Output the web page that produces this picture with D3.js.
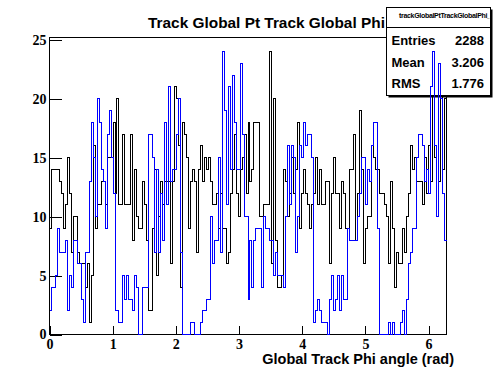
<!DOCTYPE html>
<html><head><meta charset="utf-8">
<script src="https://cdn.jsdelivr.net/npm/d3@7"></script>
<style>html,body{margin:0;padding:0;background:#fff;} svg{display:block}</style>
</head><body><svg id="c" width="496" height="372"></svg>
<script>
// ---------- data ----------
const xRange = [0, 2 * Math.PI];
const blackCounts = [
 9,14,14,14,14,13,12,9,11,15, 12,7,10,10,7,6,6,6,4,6,
 1,5,16,9,11,11,13,13,11,15, 15,15,18,12,20,11,11,17,11,11,
 11,17,8,14,10,9,9,13,11,8, 2,2,9,14,5,10,13,11,13,13,
 13,6,13,21,20,16,4,18,17,15, 9,13,14,13,7,14,16,13,15,14,
 15,13,11,11,12,9,12,9,9,6, 7,12,14,17,12,10,14,15,17,12,
 18,13,14,18,18,18,10,10,11,11, 11,24,6,20,8,4,4,5,14,13,
 10,12,15,12,14,18,9,12,14,12, 11,9,11,12,15,11,14,11,11,13,
 13,6,12,15,12,12,9,13,12,9, 9,14,14,17,8,12,19,14,6,9,
 10,10,16,15,14,14,12,12,12,11, 10,6,13,9,4,7,6,6,9,7,
 10,12,16,14,15,13,13,13,11,15, 12,16,13,22,15,10,13,23,14,20
];
const blueCounts = [
 2,4,4,5,9,7,7,7,8,2, 5,4,8,8,6,6,3,1,7,7,
 13,18,15,10,20,18,14,13,9,17, 19,15,12,2,2,1,1,5,3,5,
 3,3,2,5,4,0,0,4,4,4, 17,17,15,7,14,7,12,8,18,11,
 21,13,14,14,17,20,7,0,0,0, 0,1,1,0,0,0,1,2,2,3,
 3,10,6,8,8,15,7,24,19,11, 21,14,22,18,14,14,23,17,10,10,
 3,8,4,8,9,9,9,4,10,9, 9,8,8,5,7,5,5,5,4,10,
 16,11,16,15,7,10,16,15,18,16, 17,17,15,1,2,3,2,1,1,1,
 0,3,5,2,3,5,2,5,3,3, 9,8,8,8,8,10,12,15,15,11,
 14,13,16,18,18,9,0,0,0,0, 0,1,0,1,0,0,0,1,2,0,
 3,6,7,9,9,15,17,17,16,13, 14,12,21,24,16,10,23,20,12,8
];
const xTicks = [0, 1, 2, 3, 4, 5, 6];
const yTicks = [0, 5, 10, 15, 20, 25];
const statsLabels = ["Entries", "Mean", "RMS"];
const statsValues = ["2288", "3.206", "1.776"];
const titleText = "Track Global Pt Track Global Phi";
const statsName = "trackGlobalPtTrackGlobalPhi_";
const xTitle = "Global Track Phi angle (rad)";

// ---------- layout ----------
const svg = d3.select("#c");
const L = 49.5, R = 446.5, T = 37.5, B = 334.5;
const x = d3.scaleLinear().domain(xRange).range([L, R]);
const y = d3.scaleLinear().domain([0, 25.2]).range([B, T]);
const sansB = "'Liberation Sans', Arial, Helvetica, sans-serif";
const serifB = "'Liberation Serif', 'Times New Roman', serif";

// title (partly hidden by stats box)
svg.append("text").attr("x", 148).attr("y", 28)
  .attr("font-family", sansB).attr("font-weight", "bold").attr("font-size", 15.4)
  .text(titleText);

// frame
svg.append("rect").attr("x", L).attr("y", T).attr("width", R - L).attr("height", B - T)
  .attr("fill", "none").attr("stroke", "#000").attr("stroke-width", 1);

// axes
const gx = svg.append("g").attr("transform", `translate(0,${B})`);
gx.call(d3.axisBottom(x).tickValues(d3.range(0, 6.29, 0.2)).tickSize(-4.5).tickFormat(""))
  .call(g => g.select(".domain").remove());
gx.call(d3.axisBottom(x).tickValues(xTicks).tickSize(-9).tickPadding(5).tickFormat(d3.format("d")))
  .call(g => g.selectAll(".domain").remove());
gx.selectAll("text").attr("font-family", serifB).attr("font-weight", "bold")
  .attr("font-size", 14).attr("fill", "#000");
gx.selectAll("line").attr("stroke", "#000").attr("shape-rendering", "crispEdges");

const gy = svg.append("g").attr("transform", `translate(${L},0)`);
gy.call(d3.axisLeft(y).tickValues(d3.range(0, 25.1, 1)).tickSize(-6).tickFormat(""))
  .call(g => g.select(".domain").remove());
gy.call(d3.axisLeft(y).tickValues(yTicks).tickSize(-12).tickPadding(3).tickFormat(d3.format("d")))
  .call(g => g.selectAll(".domain").remove());
gy.selectAll("text").attr("font-family", serifB).attr("font-weight", "bold")
  .attr("font-size", 14).attr("fill", "#000");
gy.selectAll("line").attr("stroke", "#000").attr("shape-rendering", "crispEdges");

// x axis title
svg.append("text").attr("x", 454).attr("y", 364).attr("text-anchor", "end")
  .attr("font-family", sansB).attr("font-weight", "bold").attr("font-size", 14.5)
  .text(xTitle);

// histogram outline helper
const nB = blackCounts.length;
const bw = (xRange[1] - xRange[0]) / nB;
function histPath(counts) {
  const pts = counts.map((v, i) => [xRange[0] + i * bw, v]);
  pts.push([xRange[1], counts[counts.length - 1]]);
  return d3.line()
    .x(d => Math.round(x(d[0]) - 0.5) + 0.5)
    .y(d => Math.round(y(d[1]) - 0.5) + 0.5)
    .curve(d3.curveStepAfter)(pts);
}

svg.append("path").attr("d", histPath(blackCounts))
  .attr("fill", "none").attr("stroke", "#000").attr("stroke-width", 1)
  .attr("shape-rendering", "crispEdges");

// stats box
const sb = { x: 386.5, y: 7.5, w: 104, h: 88 };
svg.append("rect").attr("x", sb.x + 2).attr("y", sb.y + 2).attr("width", sb.w).attr("height", sb.h)
  .attr("fill", "#000");
svg.append("rect").attr("x", sb.x).attr("y", sb.y).attr("width", sb.w).attr("height", sb.h)
  .attr("fill", "#fff").attr("stroke", "#000").attr("stroke-width", 1);
svg.append("clipPath").attr("id", "sbclip").append("rect")
  .attr("x", sb.x + 1).attr("y", sb.y + 1).attr("width", sb.w - 2).attr("height", sb.h - 2);
svg.append("text").attr("x", 399).attr("y", 17.5).attr("clip-path", "url(#sbclip)")
  .attr("font-family", sansB).attr("font-weight", "bold").attr("font-size", 7).attr("fill", "#000")
  .attr("textLength", 92).text(statsName);
svg.append("line").attr("x1", sb.x).attr("x2", sb.x + sb.w).attr("y1", 27.5).attr("y2", 27.5)
  .attr("stroke", "#000");
const rowBase = [45, 66.5, 88];
statsLabels.forEach((lab, i) => {
  svg.append("text").attr("x", 391.5).attr("y", rowBase[i])
    .attr("font-family", sansB).attr("font-weight", "bold").attr("font-size", 13).text(lab);
  svg.append("text").attr("x", 484).attr("y", rowBase[i]).attr("text-anchor", "end")
    .attr("font-family", sansB).attr("font-weight", "bold").attr("font-size", 13).text(statsValues[i]);
});

// blue histogram drawn last (over stats box)
svg.append("path").attr("d", histPath(blueCounts))
  .attr("fill", "none").attr("stroke", "#0000ff").attr("stroke-width", 1)
  .attr("shape-rendering", "crispEdges");
</script>
</body></html>
